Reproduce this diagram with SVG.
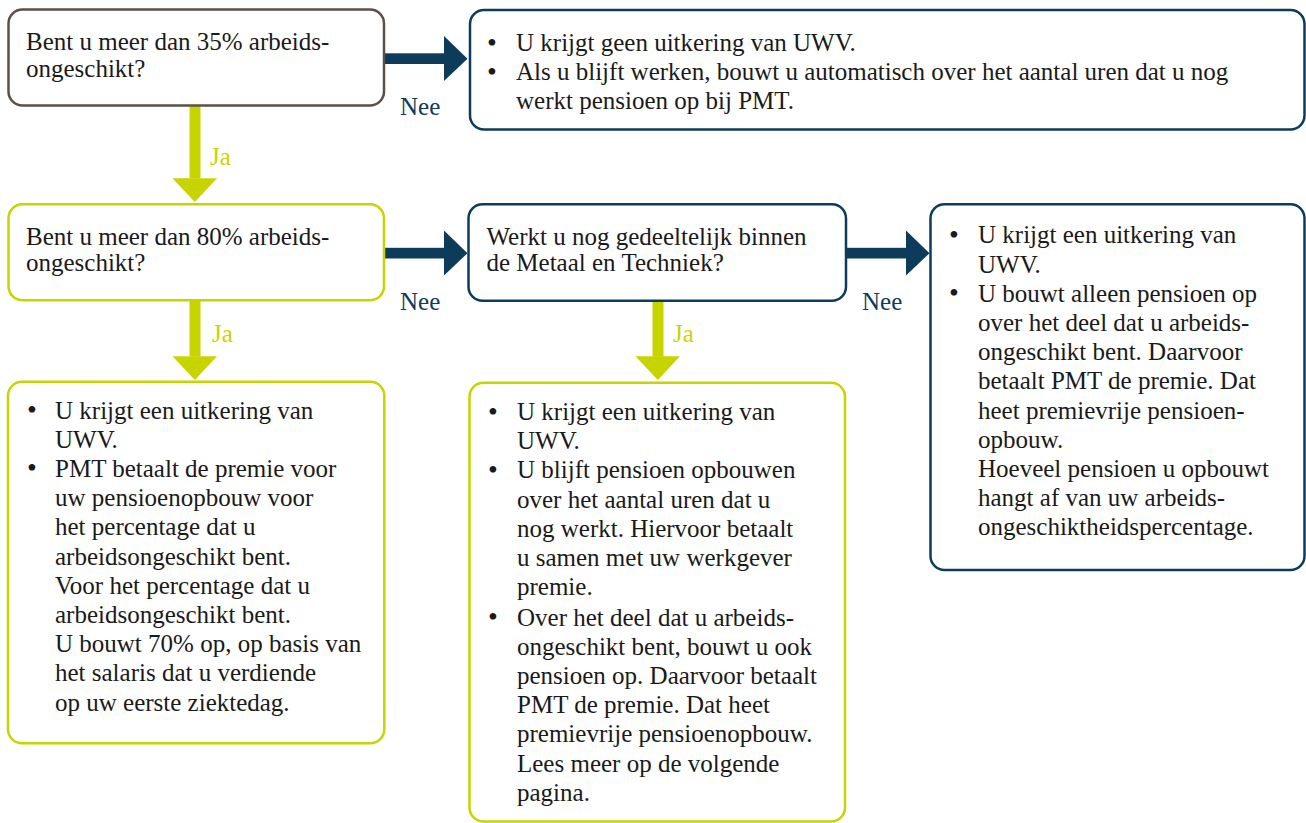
<svg xmlns="http://www.w3.org/2000/svg" width="1306" height="823" viewBox="0 0 1306 823">
<style>
.box{fill:#ffffff;stroke-width:2.5}
.grey{stroke:#5b5049}
.navy{stroke:#0c3c5a}
.lime{stroke:#c8d400}
.t{font-family:"Liberation Serif","Times New Roman",serif;font-size:25px;fill:#1a1a1a}
.b{font-family:"Liberation Serif","Times New Roman",serif;font-size:28px;fill:#1a1a1a}
.nee{font-family:"Liberation Serif","Times New Roman",serif;font-size:25px;fill:#0c3c5a}
.ja{font-family:"Liberation Serif","Times New Roman",serif;font-size:25px;fill:#c8d400}
.an{fill:#0c3c5a}
.al{fill:#c8d400}
</style>
<rect width="1306" height="823" fill="#ffffff"/>
<g id="connectors">
  <g id="c1-nee">
    <rect class="an" x="384" y="53.3" width="60" height="10.7"/>
    <polygon class="an" points="444,36 467.5,58.7 444,81"/>
    <text class="nee" x="400" y="115">Nee</text>
  </g>
  <g id="c1-ja">
    <rect class="al" x="189.5" y="105" width="11" height="73.5"/>
    <polygon class="al" points="172.5,178.3 217,178.3 194.8,202"/>
    <text class="ja" x="210" y="165">Ja</text>
  </g>
  <g id="c2-nee">
    <rect class="an" x="384" y="247.8" width="60" height="10.7"/>
    <polygon class="an" points="444,230.5 467.5,253.2 444,275.5"/>
    <text class="nee" x="400" y="310">Nee</text>
  </g>
  <g id="c2-ja">
    <rect class="al" x="189.5" y="300" width="11" height="56.5"/>
    <polygon class="al" points="172.5,356.3 217,356.3 194.8,380"/>
    <text class="ja" x="212" y="342">Ja</text>
  </g>
  <g id="c3-nee">
    <rect class="an" x="845" y="247.8" width="61" height="10.7"/>
    <polygon class="an" points="906,230.5 929.5,253.2 906,275.5"/>
    <text class="nee" x="862" y="310">Nee</text>
  </g>
  <g id="c3-ja">
    <rect class="al" x="652.5" y="301" width="11" height="55.5"/>
    <polygon class="al" points="635.5,356.3 680,356.3 657.8,380"/>
    <text class="ja" x="673" y="342">Ja</text>
  </g>
</g>
<g id="q35">
  <rect class="box grey" x="8.5" y="9.5" width="375.5" height="96" rx="14"/>
  <text class="t" x="26" y="50">Bent u meer dan 35% arbeids-</text>
  <text class="t" x="26" y="76.5">ongeschikt?</text>
</g>
<g id="nee35">
  <rect class="box navy" x="470" y="10" width="834.5" height="119.5" rx="14"/>
  <text class="b" x="487" y="51.5">•</text>
  <text class="t" x="516" y="51">U krijgt geen uitkering van UWV.</text>
  <text class="b" x="487" y="80.5">•</text>
  <text class="t" x="516" y="80">Als u blijft werken, bouwt u automatisch over het aantal uren dat u nog</text>
  <text class="t" x="516" y="109">werkt pensioen op bij PMT.</text>
</g>
<g id="q80">
  <rect class="box lime" x="8.5" y="204.3" width="375.5" height="96" rx="14"/>
  <text class="t" x="26" y="244.5">Bent u meer dan 80% arbeids-</text>
  <text class="t" x="26" y="271">ongeschikt?</text>
</g>
<g id="qwerk">
  <rect class="box navy" x="468.5" y="204.3" width="377.5" height="96.5" rx="14"/>
  <text class="t" x="486.5" y="244.5">Werkt u nog gedeeltelijk binnen</text>
  <text class="t" x="486.5" y="271">de Metaal en Techniek?</text>
</g>
<g id="neewerk">
  <rect class="box navy" x="930.5" y="204.3" width="374" height="365.7" rx="14"/>
  <text class="b" x="949" y="243.8">•</text>
  <text class="t" x="978" y="243.3">U krijgt een uitkering van</text>
  <text class="t" x="978" y="272.5">UWV.</text>
  <text class="b" x="949" y="302.2">•</text>
  <text class="t" x="978" y="301.7">U bouwt alleen pensioen op</text>
  <text class="t" x="978" y="330.9">over het deel dat u arbeids-</text>
  <text class="t" x="978" y="360.1">ongeschikt bent. Daarvoor</text>
  <text class="t" x="978" y="389.3">betaalt PMT de premie. Dat</text>
  <text class="t" x="978" y="418.5">heet premievrije pensioen-</text>
  <text class="t" x="978" y="447.7">opbouw.</text>
  <text class="t" x="978" y="476.9">Hoeveel pensioen u opbouwt</text>
  <text class="t" x="978" y="506.1">hangt af van uw arbeids-</text>
  <text class="t" x="978" y="535.3">ongeschiktheidspercentage.</text>
</g>
<g id="ja80">
  <rect class="box lime" x="8" y="381.8" width="376.3" height="361.5" rx="14"/>
  <text class="b" x="27" y="419">•</text>
  <text class="t" x="55" y="418.5">U krijgt een uitkering van</text>
  <text class="t" x="55" y="447.7">UWV.</text>
  <text class="b" x="27" y="477.4">•</text>
  <text class="t" x="55" y="476.9">PMT betaalt de premie voor</text>
  <text class="t" x="55" y="506.1">uw pensioenopbouw voor</text>
  <text class="t" x="55" y="535.3">het percentage dat u</text>
  <text class="t" x="55" y="564.5">arbeidsongeschikt bent.</text>
  <text class="t" x="55" y="593.7">Voor het percentage dat u</text>
  <text class="t" x="55" y="622.9">arbeidsongeschikt bent.</text>
  <text class="t" x="55" y="652.1">U bouwt 70% op, op basis van</text>
  <text class="t" x="55" y="681.3">het salaris dat u verdiende</text>
  <text class="t" x="55" y="710.5">op uw eerste ziektedag.</text>
</g>
<g id="jawerk">
  <rect class="box lime" x="469.5" y="382.8" width="375.5" height="438.7" rx="14"/>
  <text class="b" x="488" y="420.5">•</text>
  <text class="t" x="517" y="420">U krijgt een uitkering van</text>
  <text class="t" x="517" y="449.2">UWV.</text>
  <text class="b" x="488" y="478.9">•</text>
  <text class="t" x="517" y="478.4">U blijft pensioen opbouwen</text>
  <text class="t" x="517" y="507.6">over het aantal uren dat u</text>
  <text class="t" x="517" y="536.8">nog werkt. Hiervoor betaalt</text>
  <text class="t" x="517" y="566">u samen met uw werkgever</text>
  <text class="t" x="517" y="595.2">premie.</text>
  <text class="b" x="488" y="626.1">•</text>
  <text class="t" x="517" y="625.6">Over het deel dat u arbeids-</text>
  <text class="t" x="517" y="654.8">ongeschikt bent, bouwt u ook</text>
  <text class="t" x="517" y="684">pensioen op. Daarvoor betaalt</text>
  <text class="t" x="517" y="713.2">PMT de premie. Dat heet</text>
  <text class="t" x="517" y="742.4">premievrije pensioenopbouw.</text>
  <text class="t" x="517" y="771.6">Lees meer op de volgende</text>
  <text class="t" x="517" y="800.8">pagina.</text>
</g>
</svg>
